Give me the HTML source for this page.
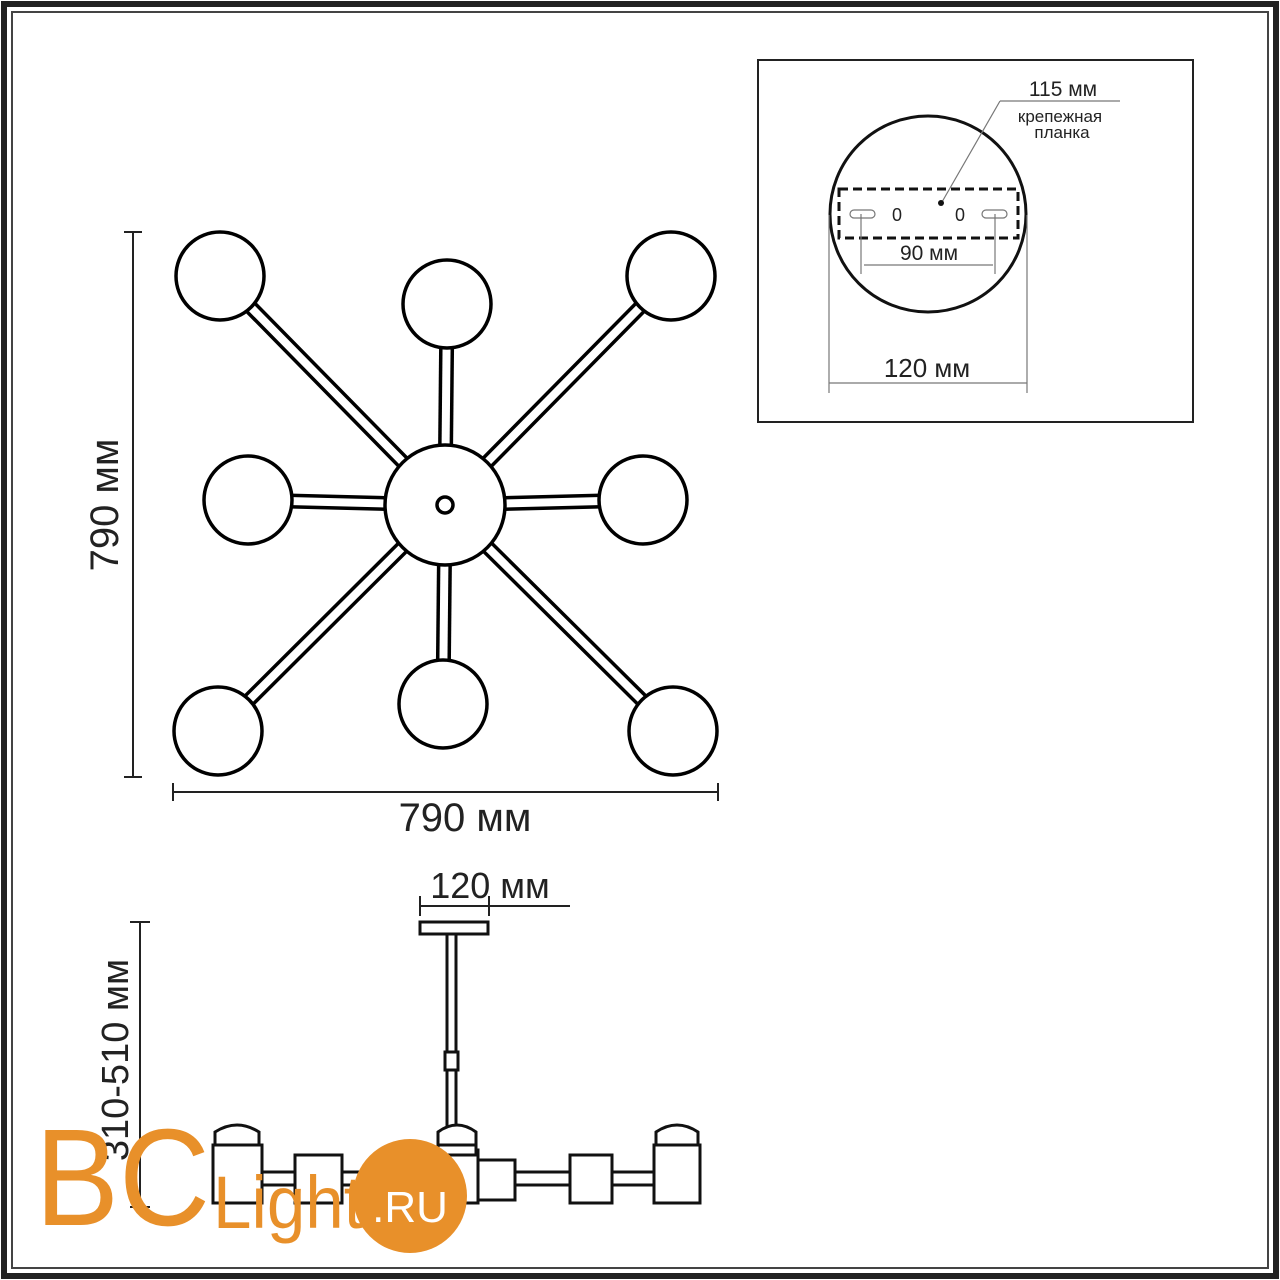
<!DOCTYPE html>
<html><head><meta charset="utf-8"><style>
html,body{margin:0;padding:0;background:#fff}
svg{display:block}
text{font-family:"Liberation Sans","DejaVu Sans",sans-serif}
</style></head><body>
<svg width="1280" height="1280" viewBox="0 0 1280 1280" xmlns="http://www.w3.org/2000/svg">
<rect x="0" y="0" width="1280" height="1280" fill="#fff"/>
<rect x="4" y="4" width="1272" height="1272" fill="none" stroke="#222" stroke-width="6"/>
<rect x="12" y="12" width="1256" height="1256" fill="none" stroke="#444" stroke-width="2"/>

<g stroke-linecap="butt">
<g stroke="#000" stroke-width="15">
<line x1="445" y1="505" x2="220" y2="276"/><line x1="445" y1="505" x2="447" y2="304"/>
<line x1="445" y1="505" x2="671" y2="276"/><line x1="445" y1="505" x2="248" y2="500"/>
<line x1="445" y1="505" x2="643" y2="500"/><line x1="445" y1="505" x2="218" y2="731"/>
<line x1="445" y1="505" x2="443" y2="704"/><line x1="445" y1="505" x2="673" y2="731"/>
</g>
<g stroke="#fff" stroke-width="8">
<line x1="445" y1="505" x2="220" y2="276"/><line x1="445" y1="505" x2="447" y2="304"/>
<line x1="445" y1="505" x2="671" y2="276"/><line x1="445" y1="505" x2="248" y2="500"/>
<line x1="445" y1="505" x2="643" y2="500"/><line x1="445" y1="505" x2="218" y2="731"/>
<line x1="445" y1="505" x2="443" y2="704"/><line x1="445" y1="505" x2="673" y2="731"/>
</g>
</g>
<g fill="#fff" stroke="#000" stroke-width="3.5">
<circle cx="220" cy="276" r="44"/><circle cx="447" cy="304" r="44"/>
<circle cx="671" cy="276" r="44"/><circle cx="248" cy="500" r="44"/>
<circle cx="643" cy="500" r="44"/><circle cx="218" cy="731" r="44"/>
<circle cx="443" cy="704" r="44"/><circle cx="673" cy="731" r="44"/>
<circle cx="445" cy="505" r="60"/>
<circle cx="445" cy="505" r="8"/>
</g>

<g stroke="#222" stroke-width="2">
<line x1="133" y1="232" x2="133" y2="777"/>
<line x1="124" y1="232" x2="142" y2="232"/><line x1="124" y1="777" x2="142" y2="777"/>
<line x1="173" y1="792" x2="718" y2="792"/>
<line x1="173" y1="783" x2="173" y2="801"/><line x1="718" y1="783" x2="718" y2="801"/>
</g>
<text x="0" y="0" font-size="40" text-anchor="middle" transform="translate(118,505) rotate(-90)" fill="#222">790 мм</text>
<text x="465" y="831" font-size="40" text-anchor="middle" fill="#222">790 мм</text>

<rect x="758" y="60" width="435" height="362" fill="none" stroke="#222" stroke-width="2"/>
<circle cx="928" cy="214" r="98" fill="none" stroke="#111" stroke-width="3"/>
<rect x="839" y="189" width="179" height="49" fill="none" stroke="#111" stroke-width="3" stroke-dasharray="9,5"/>
<g stroke="#777" stroke-width="1.2" fill="none">
<rect x="850" y="210" width="25" height="8" rx="4"/><rect x="982" y="210" width="25" height="8" rx="4"/>
<line x1="861" y1="214" x2="861" y2="274"/><line x1="995" y1="214" x2="995" y2="274"/>
<line x1="864" y1="265" x2="993" y2="265"/>
<line x1="829" y1="215" x2="829" y2="393"/><line x1="1027" y1="215" x2="1027" y2="393"/>
<line x1="829" y1="383" x2="1027" y2="383"/>
<line x1="1000" y1="101" x2="1120" y2="101"/>
<line x1="1000" y1="101" x2="942" y2="202"/>
</g>
<circle cx="941" cy="203" r="3" fill="#111"/>
<g fill="#222" font-size="18">
<text x="897" y="221" text-anchor="middle">0</text><text x="960" y="221" text-anchor="middle">0</text>
<text x="1063" y="96" text-anchor="middle" font-size="21">115 мм</text>
<text x="1060" y="122" text-anchor="middle" font-size="17">крепежная</text>
<text x="1062" y="138" text-anchor="middle" font-size="17">планка</text>
<text x="929" y="260" text-anchor="middle" font-size="21">90 мм</text>
<text x="927" y="377" text-anchor="middle" font-size="26">120 мм</text>
</g>

<g stroke="#222" stroke-width="2">
<line x1="420" y1="906" x2="570" y2="906"/>
<line x1="420" y1="896" x2="420" y2="916"/><line x1="489" y1="896" x2="489" y2="916"/>
<line x1="140" y1="922" x2="140" y2="1207"/>
<line x1="130" y1="922" x2="150" y2="922"/><line x1="130" y1="1207" x2="150" y2="1207"/>
</g>
<text x="490" y="898" font-size="36" text-anchor="middle" fill="#222">120 мм</text>
<text x="0" y="0" font-size="38" text-anchor="middle" transform="translate(128,1060) rotate(-90)" fill="#222">310-510 мм</text>
<g fill="#fff" stroke="#111" stroke-width="3">
<rect x="420" y="922" width="68" height="12"/>
<rect x="447" y="934" width="9" height="215"/>
<rect x="445" y="1052" width="13" height="18"/>
<rect x="255" y="1172" width="400" height="13"/>
<rect x="295" y="1155" width="47" height="48"/>
<rect x="570" y="1155" width="42" height="48"/>
<rect x="478" y="1160" width="37" height="40"/>
<rect x="430" y="1150" width="48" height="53"/>
<path d="M215,1145 L215,1132 Q237,1118 259,1132 L259,1145 Z"/>
<rect x="213" y="1145" width="49" height="58"/>
<path d="M438,1145 L438,1132 Q457,1118 476,1132 L476,1145 Z"/>
<rect x="438" y="1145" width="38" height="10"/>
<path d="M656,1145 L656,1132 Q677,1118 698,1132 L698,1145 Z"/>
<rect x="654" y="1145" width="46" height="58"/>
</g>

<g fill="#e8902a">
<text x="35" y="1225" font-size="138" textLength="175" lengthAdjust="spacingAndGlyphs">BC</text>
<text x="213" y="1228" font-size="74" textLength="150" lengthAdjust="spacingAndGlyphs">Light</text>
<circle cx="410" cy="1196" r="57"/>
</g>
<text x="410" y="1222" font-size="44" text-anchor="middle" fill="#fff">.RU</text>
</svg>
</body></html>
